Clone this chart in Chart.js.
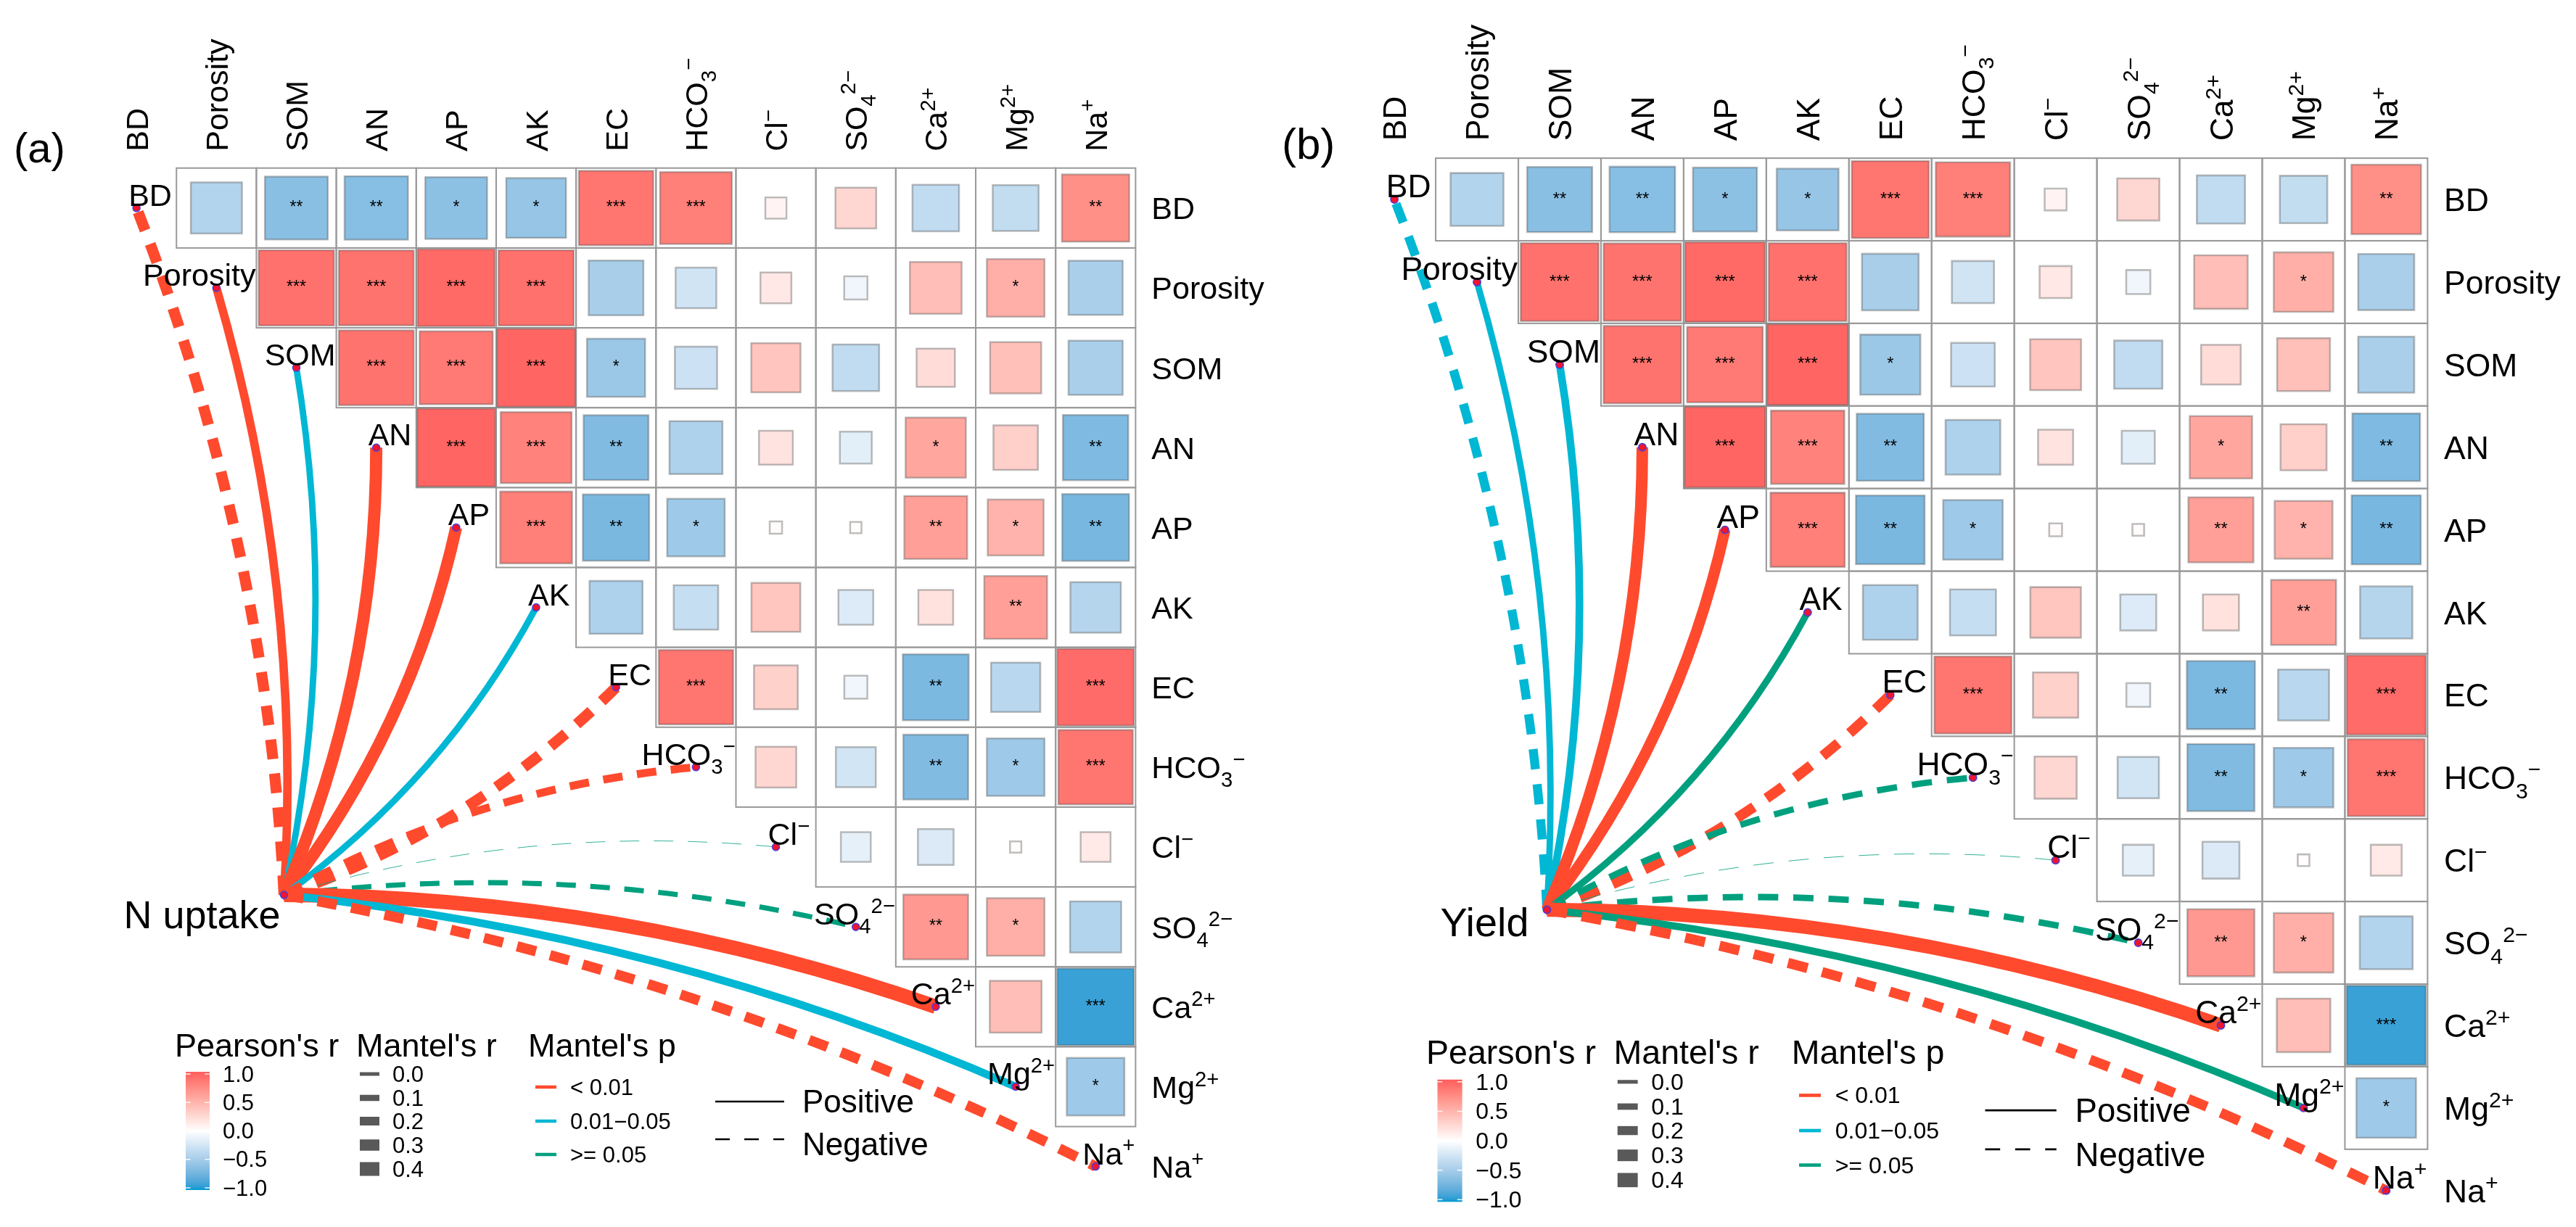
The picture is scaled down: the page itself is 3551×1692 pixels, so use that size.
<!DOCTYPE html>
<html lang="en">
<head>
<meta charset="UTF-8">
<title>Soil properties vs N uptake and yield - Mantel test</title>
<script src="https://cdn.jsdelivr.net/npm/chart.js"></script>
<style>
  html, body { margin: 0; padding: 0; background: #fff; }
  canvas { position: absolute; top: 0; }
</style>
</head>
<body>
<canvas id="panelA" width="1755" height="1692" style="left:0px"></canvas>
<canvas id="panelB" width="1796" height="1692" style="left:1755px"></canvas>
<script>
const FONT = '"Liberation Sans", Arial, Helvetica, sans-serif';

// soil variables as [text, subscript, superscript]
const varLabels = [
  ['BD'], ['Porosity'], ['SOM'], ['AN'], ['AP'], ['AK'], ['EC'],
  ['HCO', '3', '\u2212'], ['Cl', '', '\u2212'], ['SO', '4', '2\u2212'],
  ['Ca', '', '2+'], ['Mg', '', '2+'], ['Na', '', '+']
];

// Pearson's r, upper triangle: each row holds the columns right of the diagonal
const corrBD       = [-0.41, -0.62, -0.63, -0.60, -0.56, 0.87, 0.81, 0.07, 0.26, -0.34, -0.33, 0.71];
const corrPorosity = [0.89, 0.88, 0.93, 0.89, -0.47, -0.26, 0.15, -0.085, 0.42, 0.52, -0.46];
const corrSOM      = [0.88, 0.84, 0.95, -0.53, -0.28, 0.38, -0.34, 0.23, 0.41, -0.46];
const corrAN       = [0.95, 0.79, -0.66, -0.44, 0.18, -0.16, 0.57, 0.31, -0.67];
const corrAP       = [0.81, -0.69, -0.52, 0.024, 0.02, 0.62, 0.49, -0.70];
const corrAK       = [-0.44, -0.31, 0.375, -0.19, 0.19, 0.62, -0.40];
const corrEC       = [0.87, 0.30, -0.083, -0.68, -0.38, 0.92];
const corrHCO3     = [0.26, -0.25, -0.66, -0.52, 0.87];
const corrCl       = [-0.14, -0.20, 0.02, 0.14];
const corrSO4      = [0.66, 0.52, -0.41];
const corrCa       = [0.42, -0.92];
const corrMg       = [-0.52];

const starsBD       = ['', '**', '**', '*', '*', '***', '***', '', '', '', '', '**'];
const starsPorosity = ['***', '***', '***', '***', '', '', '', '', '', '*', ''];
const starsSOM      = ['***', '***', '***', '*', '', '', '', '', '', ''];
const starsAN       = ['***', '***', '**', '', '', '', '*', '', '**'];
const starsAP       = ['***', '**', '*', '', '', '**', '*', '**'];
const starsAK       = ['', '', '', '', '', '**', ''];
const starsEC       = ['***', '', '', '**', '', '***'];
const starsHCO3     = ['', '', '**', '*', '***'];
const starsCl       = ['', '', '', ''];
const starsSO4      = ['**', '*', ''];
const starsCa       = ['', '***'];
const starsMg       = ['*'];

const corrRows = [corrBD, corrPorosity, corrSOM, corrAN, corrAP, corrAK, corrEC, corrHCO3, corrCl, corrSO4, corrCa, corrMg];
const starRows = [starsBD, starsPorosity, starsSOM, starsAN, starsAP, starsAK, starsEC, starsHCO3, starsCl, starsSO4, starsCa, starsMg];

// Mantel test of each soil variable against N uptake (a) and yield (b)
const mantelR_uptake = [0.29, 0.19, 0.11, 0.34, 0.33, 0.11, 0.29, 0.17, -0.12, 0.06, 0.43, 0.17, 0.26];
const mantelP_uptake = ['< 0.01', '< 0.01', '0.01\u22120.05', '< 0.01', '< 0.01', '0.01\u22120.05', '< 0.01',
                        '< 0.01', '>= 0.05', '>= 0.05', '< 0.01', '0.01\u22120.05', '< 0.01'];
const effect_uptake  = ['Negative', 'Positive', 'Positive', 'Positive', 'Positive', 'Positive', 'Negative',
                        'Negative', 'Negative', 'Negative', 'Positive', 'Positive', 'Negative'];

const mantelR_yield = [0.20, 0.10, 0.15, 0.30, 0.28, 0.11, 0.25, 0.10, -0.12, 0.10, 0.40, 0.13, 0.24];
const mantelP_yield = ['0.01\u22120.05', '0.01\u22120.05', '0.01\u22120.05', '< 0.01', '< 0.01', '>= 0.05', '< 0.01',
                       '>= 0.05', '>= 0.05', '>= 0.05', '< 0.01', '>= 0.05', '< 0.01'];
const effect_yield  = ['Negative', 'Positive', 'Positive', 'Positive', 'Positive', 'Positive', 'Negative',
                       'Negative', 'Negative', 'Negative', 'Positive', 'Positive', 'Negative'];

// legend breaks
const pearsonTicks = [1, 0.5, 0, -0.5, -1];
const pearsonTickLabels = ['1.0', '0.5', '0.0', '\u22120.5', '\u22121.0'];
const mantelRBreaks = [0, 0.1, 0.2, 0.3, 0.4];
const mantelPLevels = ['< 0.01', '0.01\u22120.05', '>= 0.05'];
const mantelPColors = ['#FF4A2E', '#00B7D4', '#00A07F'];
const effectLevels = ['Positive', 'Negative'];

// where the response node sits, in cell units of the matrix
const envAnchor = { col: 1.846, row: 8.6 };

const panelA = { canvas: 'panelA', left: 0, width: 1755, cell: 111, col0: 183, row0: 282.5,
  tag: '(a)', tagX: 19, tagY: 224, env: 'N uptake', envDx: -5, envDy: 46, legendX: 241, legendY: 1457 };
const panelB = { canvas: 'panelB', left: 1755, width: 1796, cell: 114.8, col0: 1916.6, row0: 270.5,
  tag: '(b)', tagX: 1767, tagY: 219, env: 'Yield', envDx: -25, envDy: 36, legendX: 1966, legendY: 1467 };

// ---- colour helpers (Lab interpolation like ggplot gradients) ----
function hexToRgb(h) { const n = parseInt(h.slice(1), 16); return [(n >> 16) & 255, (n >> 8) & 255, n & 255]; }
function toLin(c) { c /= 255; return c <= 0.04045 ? c / 12.92 : Math.pow((c + 0.055) / 1.055, 2.4); }
function fromLin(c) {
  const v = c <= 0.0031308 ? 12.92 * c : 1.055 * Math.pow(c, 1 / 2.4) - 0.055;
  return Math.round(Math.min(1, Math.max(0, v)) * 255);
}
function rgbToLab(rgb) {
  const [r, g, b] = rgb.map(toLin);
  const x = (0.4124 * r + 0.3576 * g + 0.1805 * b) / 0.95047;
  const y = 0.2126 * r + 0.7152 * g + 0.0722 * b;
  const z = (0.0193 * r + 0.1192 * g + 0.9505 * b) / 1.08883;
  const f = t => t > 0.008856 ? Math.cbrt(t) : 7.787 * t + 16 / 116;
  return [116 * f(y) - 16, 500 * (f(x) - f(y)), 200 * (f(y) - f(z))];
}
function labToRgb([L, a, b]) {
  const fy = (L + 16) / 116, fx = fy + a / 500, fz = fy - b / 200;
  const g = t => t * t * t > 0.008856 ? t * t * t : (t - 16 / 116) / 7.787;
  const x = g(fx) * 0.95047, y = g(fy), z = g(fz) * 1.08883;
  return [fromLin(3.2406 * x - 1.5372 * y - 0.4986 * z),
          fromLin(-0.9689 * x + 1.8758 * y + 0.0415 * z),
          fromLin(0.0557 * x - 0.2040 * y + 1.0570 * z)];
}
const labLow = rgbToLab(hexToRgb('#0099D2'));
const labMid = rgbToLab(hexToRgb('#FFFFFF'));
const labHigh = rgbToLab(hexToRgb('#FF5C5C'));
function pearsonColor(r) {
  const t = Math.min(1, Math.abs(r)), end = r < 0 ? labLow : labHigh;
  const rgb = labToRgb(labMid.map((m, i) => m + t * (end[i] - m)));
  return `rgb(${rgb[0]},${rgb[1]},${rgb[2]})`;
}
const mantelWidth = r => Math.max(0.7, 5 + 35 * r);

// ---- text helpers ----
function richWidth(ctx, parts, size) {
  ctx.font = `${size}px ${FONT}`;
  let w = ctx.measureText(parts[0]).width;
  ctx.font = `${size * 0.68}px ${FONT}`;
  if (parts[1]) w += ctx.measureText(parts[1]).width;
  if (parts[2]) w += ctx.measureText(parts[2]).width;
  return w;
}
function drawRich(ctx, parts, x, y, size) {
  ctx.textAlign = 'left';
  ctx.textBaseline = 'alphabetic';
  ctx.font = `${size}px ${FONT}`;
  ctx.fillText(parts[0], x, y);
  x += ctx.measureText(parts[0]).width;
  ctx.font = `${size * 0.68}px ${FONT}`;
  if (parts[1]) { ctx.fillText(parts[1], x, y + 0.28 * size); x += ctx.measureText(parts[1]).width; }
  if (parts[2]) ctx.fillText(parts[2], x, y - 0.38 * size);
}

function drawLegend(ctx, ox, oy, k) {
  ctx.save();
  ctx.fillStyle = '#000';
  ctx.textAlign = 'left';
  ctx.textBaseline = 'alphabetic';
  ctx.font = `${45 * k}px ${FONT}`;
  ctx.fillText("Pearson's r", ox, oy);
  ctx.fillText("Mantel's r", ox + 250 * k, oy);
  ctx.fillText("Mantel's p", ox + 487 * k, oy);

  // colour bar
  const bx = ox + 15 * k, bw = 33 * k, by = oy + 21 * k, bh = 163 * k;
  const grad = ctx.createLinearGradient(0, by, 0, by + bh);
  for (let t = 0; t <= 40; t++) grad.addColorStop(t / 40, pearsonColor(1 - 2 * t / 40));
  ctx.fillStyle = grad;
  ctx.fillRect(bx, by, bw, bh);
  ctx.strokeStyle = 'rgba(255,255,255,0.9)';
  ctx.lineWidth = 1.5 * k;
  ctx.font = `${31 * k}px ${FONT}`;
  ctx.textBaseline = 'middle';
  pearsonTicks.forEach((v, i) => {
    const y = by + 3 * k + (1 - v) / 2 * (bh - 6 * k);
    ctx.beginPath();
    ctx.moveTo(bx, y); ctx.lineTo(bx + bw / 5, y);
    ctx.moveTo(bx + bw, y); ctx.lineTo(bx + bw * 4 / 5, y);
    ctx.stroke();
    ctx.fillStyle = '#000';
    ctx.fillText(pearsonTickLabels[i], ox + 66 * k, y + 2 * k);
  });

  // Mantel's r keys
  const rYs = [24, 57, 89, 122, 155];
  mantelRBreaks.forEach((v, i) => {
    const h = mantelWidth(v) * k, y = oy + rYs[i] * k;
    ctx.fillStyle = '#595959';
    ctx.fillRect(ox + 255 * k, y - h / 2, 27 * k, h);
    ctx.fillStyle = '#000';
    ctx.fillText(v.toFixed(1), ox + 300 * k, y + 2 * k);
  });

  // Mantel's p keys
  const pYs = [42, 89, 135];
  mantelPLevels.forEach((lev, i) => {
    const y = oy + pYs[i] * k;
    ctx.strokeStyle = mantelPColors[i];
    ctx.lineWidth = 4.5 * k;
    ctx.beginPath(); ctx.moveTo(ox + 497 * k, y); ctx.lineTo(ox + 526 * k, y); ctx.stroke();
    ctx.fillStyle = '#000';
    ctx.fillText(lev, ox + 545 * k, y + 2 * k);
  });

  // sign keys
  ctx.strokeStyle = '#000';
  ctx.lineWidth = 2.5 * k;
  ctx.beginPath(); ctx.moveTo(ox + 745 * k, oy + 62 * k); ctx.lineTo(ox + 840 * k, oy + 62 * k); ctx.stroke();
  ctx.setLineDash([20 * k, 20 * k]);
  ctx.beginPath(); ctx.moveTo(ox + 745 * k, oy + 114 * k); ctx.lineTo(ox + 840 * k, oy + 114 * k); ctx.stroke();
  ctx.setLineDash([]);
  ctx.textBaseline = 'alphabetic';
  ctx.font = `${44 * k}px ${FONT}`;
  ctx.fillText(effectLevels[0], ox + 865 * k, oy + 77 * k);
  ctx.fillText(effectLevels[1], ox + 865 * k, oy + 136 * k);
  ctx.restore();
}

function decor(panel, k, mantelR, mantelP, effect) {
  return {
    id: 'decor',
    beforeDatasetsDraw(chart) {
      const ctx = chart.ctx, sx = chart.scales.x, sy = chart.scales.y;
      const s = sx.getPixelForValue(1) - sx.getPixelForValue(0);
      ctx.save();
      // cell frames of the upper triangle
      ctx.strokeStyle = '#9a9a9a';
      ctx.lineWidth = 2 * k;
      corrRows.forEach((row, i) => row.forEach((_, n) => {
        const x = sx.getPixelForValue(i + 1 + n), y = sy.getPixelForValue(i);
        ctx.strokeRect(x - s / 2, y - s / 2, s, s);
      }));
      // Mantel links from the response node to each variable
      const ex = sx.getPixelForValue(envAnchor.col), ey = sy.getPixelForValue(envAnchor.row);
      ctx.lineCap = 'butt';
      mantelR.forEach((r, i) => {
        const tx = sx.getPixelForValue(i), ty = sy.getPixelForValue(i);
        const dx = tx - ex, dy = ty - ey, L = Math.hypot(dx, dy);
        const side = i < varLabels.length / 2 ? 1 : -1;
        const h = 0.04 * L + 0.36 * s;
        const qx = (ex + tx) / 2 - side * dy / L * h;
        const qy = (ey + ty) / 2 + side * dx / L * h;
        ctx.strokeStyle = mantelPColors[mantelPLevels.indexOf(mantelP[i])];
        ctx.lineWidth = mantelWidth(r) * k;
        ctx.setLineDash(effect[i] === 'Negative' ? [27 * k, 20 * k] : []);
        ctx.beginPath();
        ctx.moveTo(ex, ey);
        ctx.quadraticCurveTo(qx, qy, tx, ty);
        ctx.stroke();
      });
      ctx.restore();
    },
    afterDatasetsDraw(chart) {
      const ctx = chart.ctx, sx = chart.scales.x, sy = chart.scales.y;
      const s = sx.getPixelForValue(1) - sx.getPixelForValue(0);
      const fs = 43 * k;
      ctx.save();
      ctx.fillStyle = '#000';
      // significance stars
      ctx.font = `${23 * k}px ${FONT}`;
      ctx.textAlign = 'center';
      ctx.textBaseline = 'middle';
      starRows.forEach((row, i) => row.forEach((st, n) => {
        if (st) ctx.fillText(st, sx.getPixelForValue(i + 1 + n), sy.getPixelForValue(i));
      }));
      // column headers (rotated) and row labels (right)
      const gridTop = sy.getPixelForValue(-0.5);
      const gridRight = sx.getPixelForValue(varLabels.length - 0.5);
      varLabels.forEach((parts, i) => {
        const cx = sx.getPixelForValue(i), cy = sy.getPixelForValue(i);
        ctx.save();
        ctx.translate(cx + 0.36 * fs, gridTop - 23 * k);
        ctx.rotate(-Math.PI / 2);
        drawRich(ctx, parts, 0, 0, fs);
        ctx.restore();
        drawRich(ctx, parts, gridRight + 22 * k, cy + 0.36 * fs, fs);
        // label at the diagonal node
        const w = richWidth(ctx, parts, fs);
        const left = Math.min(cx - 11 * k, cx + s / 2 - w - 1);
        drawRich(ctx, parts, left, cy - 3 * k, fs);
      });
      // response label
      const ex = sx.getPixelForValue(envAnchor.col), ey = sy.getPixelForValue(envAnchor.row);
      ctx.font = `${54 * k}px ${FONT}`;
      ctx.textAlign = 'right';
      ctx.textBaseline = 'alphabetic';
      ctx.fillText(panel.env, ex + panel.envDx, ey + panel.envDy);
      // panel tag
      ctx.font = `${58 * k}px ${FONT}`;
      ctx.textAlign = 'left';
      ctx.fillText(panel.tag, panel.tagX - panel.left, panel.tagY);
      ctx.restore();
      drawLegend(ctx, panel.legendX - panel.left, panel.legendY, k);
    }
  };
}

function buildPanel(panel, mantelR, mantelP, effect) {
  const k = panel.cell / 111;
  const xMin = -(panel.col0 - panel.left) / panel.cell;
  const yMin = -panel.row0 / panel.cell;

  const cells = [];
  corrRows.forEach((row, i) => row.forEach((r, n) => cells.push({ x: i + 1 + n, y: i, r: r })));
  const nodes = varLabels.map((_, i) => ({ x: i, y: i }));
  nodes.push({ x: envAnchor.col, y: envAnchor.row });

  const cellPx = c => Math.abs(c.chart.scales.x.getPixelForValue(1) - c.chart.scales.x.getPixelForValue(0));

  new Chart(document.getElementById(panel.canvas), {
    type: 'scatter',
    data: {
      datasets: [
        { label: 'nodes', data: nodes, order: 0,
          pointRadius: 5 * k, pointBackgroundColor: '#F0142E',
          pointBorderColor: '#4A3CD8', pointBorderWidth: 1.5 * k },
        { label: "Pearson's r", data: cells, order: 1, pointStyle: 'rect',
          pointRadius: c => c.raw ? Math.sqrt(Math.abs(c.raw.r)) * cellPx(c) / Math.SQRT2 : 0,
          pointBackgroundColor: c => c.raw ? pearsonColor(c.raw.r) : '#fff',
          pointBorderColor: 'rgba(70,70,70,0.35)', pointBorderWidth: 2.5 * k }
      ]
    },
    options: {
      responsive: false,
      animation: false,
      devicePixelRatio: 1,
      events: [],
      layout: { padding: 0 },
      scales: {
        x: { type: 'linear', display: false, bounds: 'data', min: xMin, max: xMin + panel.width / panel.cell },
        y: { type: 'linear', display: false, bounds: 'data', reverse: true, min: yMin, max: yMin + 1692 / panel.cell }
      },
      plugins: { legend: { display: false }, tooltip: { enabled: false } }
    },
    plugins: [decor(panel, k, mantelR, mantelP, effect)]
  });
}

buildPanel(panelA, mantelR_uptake, mantelP_uptake, effect_uptake);
buildPanel(panelB, mantelR_yield, mantelP_yield, effect_yield);
</script>
</body>
</html>
